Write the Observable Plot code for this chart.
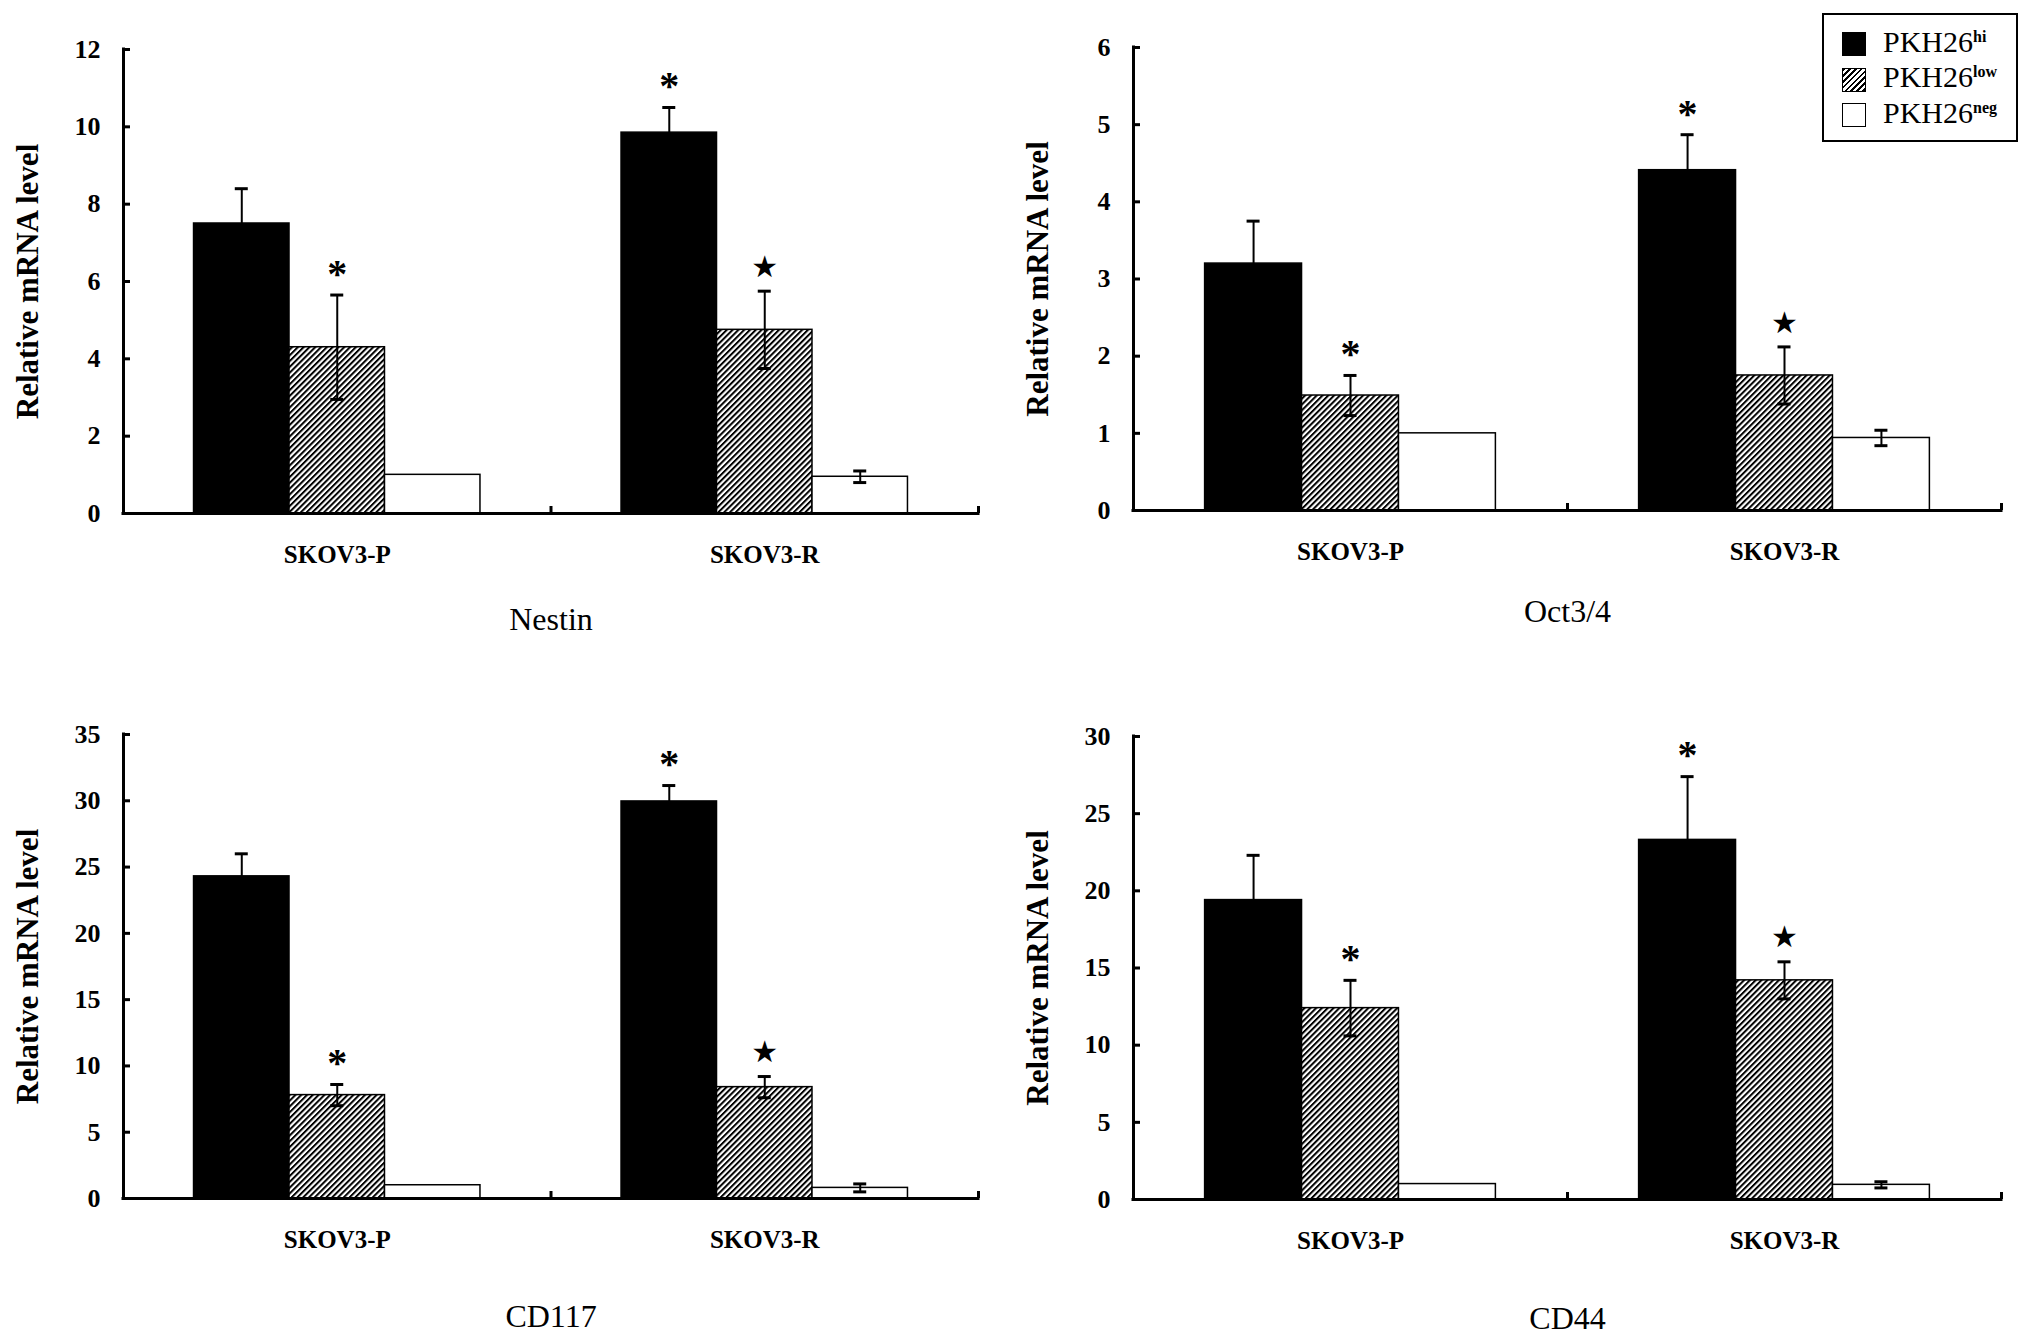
<!DOCTYPE html>
<html>
<head>
<meta charset="utf-8">
<script src="https://cdn.jsdelivr.net/npm/d3@7"></script>
<script src="https://cdn.jsdelivr.net/npm/@observablehq/plot@0.6"></script>
<style>
  body { margin: 0; background: white; }
  #fig { position: relative; width: 2031px; height: 1341px; background: white; font-family: "Liberation Serif", "Times New Roman", serif; }
  .panel { position: absolute; }
  .legend { position: absolute; left: 1822px; top: 13px; width: 196px; height: 129px; border: 2px solid black; box-sizing: border-box; }
  .legend .row { position: absolute; left: 18px; height: 26px; display: flex; align-items: center; }
  .legend .sw { width: 22px; height: 22px; border: 1.5px solid black; margin-right: 17px; }
  .legend .lab { font-size: 30px; line-height: 26px; }
  .legend sup { font-size: 16px; font-weight: bold; vertical-align: 0; position: relative; top: -10px; }
</style>
</head>
<body>
<div id="fig"></div>
<script>
// categories
const groups = ['SKOV3-P', 'SKOV3-R'];
const series = ['PKH26hi', 'PKH26low', 'PKH26neg'];
const seriesSup = ['hi', 'low', 'neg'];
const genes = ['Nestin', 'Oct3/4', 'CD117', 'CD44'];

// means and error bars, order: P-hi, P-low, P-neg, R-hi, R-low, R-neg
const nestinMean = [7.5, 4.3, 1.0, 9.85, 4.75, 0.95];
const nestinErr = [0.9, 1.35, 0, 0.65, 1.0, 0.15];
const octMean = [3.2, 1.49, 1.0, 4.41, 1.75, 0.94];
const octErr = [0.55, 0.26, 0, 0.46, 0.37, 0.1];
const cd117Mean = [24.3, 7.8, 1.0, 29.95, 8.4, 0.8];
const cd117Err = [1.7, 0.8, 0, 1.2, 0.8, 0.3];
const cd44Mean = [19.4, 12.4, 1.0, 23.3, 14.2, 0.95];
const cd44Err = [2.9, 1.8, 0, 4.1, 1.2, 0.2];

// significance marks per bar
const sigMarks = ['', '*', '', '*', '\u2605', ''];

// y axis ticks
const nestinTicks = [0, 2, 4, 6, 8, 10, 12];
const octTicks = [0, 1, 2, 3, 4, 5, 6];
const cd117Ticks = [0, 5, 10, 15, 20, 25, 30, 35];
const cd44Ticks = [0, 5, 10, 15, 20, 25, 30];

const panels = [
  {gene: genes[0], mean: nestinMean, err: nestinErr, ticks: nestinTicks,
   left: 0, top: 0, width: 1015, height: 670, mt: 49, mb: 157, ml: 123, mr: 37, titleDy: 106},
  {gene: genes[1], mean: octMean, err: octErr, ticks: octTicks,
   left: 1015, top: 0, width: 1016, height: 670, mt: 47, mb: 160, ml: 118, mr: 30, titleDy: 101},
  {gene: genes[2], mean: cd117Mean, err: cd117Err, ticks: cd117Ticks,
   left: 0, top: 670, width: 1015, height: 671, mt: 64, mb: 143, ml: 123, mr: 37, titleDy: 118},
  {gene: genes[3], mean: cd44Mean, err: cd44Err, ticks: cd44Ticks,
   left: 1015, top: 670, width: 1016, height: 671, mt: 66, mb: 142, ml: 118, mr: 30, titleDy: 119}
];

// bars sit inside each group's unit interval
const sub = d3.scaleBand(series, [0.165, 0.835]);
const bx1 = d => groups.indexOf(d.group) + sub(d.series);
const bx2 = d => bx1(d) + sub.bandwidth();
const bxc = d => bx1(d) + sub.bandwidth() / 2;

const fig = document.getElementById('fig');

panels.forEach((p, k) => {
  const rows = groups.flatMap((g, gi) => series.map((s, si) => ({
    group: g, series: s,
    mean: p.mean[gi * 3 + si], err: p.err[gi * 3 + si], sig: sigMarks[gi * 3 + si]
  })));
  const withErr = rows.filter(d => d.err > 0);
  const ymax = p.ticks[p.ticks.length - 1];
  const hatchId = 'hatch' + k;

  const defs = () => {
    const d = d3.create('svg:defs');
    const pat = d.append('pattern')
      .attr('id', hatchId)
      .attr('patternUnits', 'userSpaceOnUse')
      .attr('width', 4.1).attr('height', 4.1)
      .attr('patternTransform', 'rotate(45)');
    pat.append('rect').attr('width', 4.1).attr('height', 4.1).attr('fill', 'white');
    pat.append('rect').attr('x', 0).attr('y', 0).attr('width', 2).attr('height', 4.1).attr('fill', 'black');
    return d.node();
  };

  const chart = Plot.plot({
    width: p.width,
    height: p.height,
    marginTop: p.mt,
    marginBottom: p.mb,
    marginLeft: p.ml,
    marginRight: p.mr,
    style: { fontFamily: '"Liberation Serif", "Times New Roman", serif', fontWeight: 'bold', color: 'black', background: 'white', overflow: 'visible' },
    x: { domain: [0, 2] },
    y: { domain: [0, ymax] },
    color: { type: 'ordinal', domain: series, range: ['black', `url(#${hatchId})`, 'white'] },
    marks: [
      defs,
      Plot.rect(rows, { x1: bx1, x2: bx2, y1: 0, y2: 'mean', fill: 'series', stroke: 'black', strokeWidth: 1.5 }),
      // error bars
      Plot.ruleX(withErr, { x: bxc, y1: d => d.mean - d.err, y2: d => d.mean + d.err, strokeWidth: 2 }),
      Plot.ruleY(withErr, { x1: bxc, x2: bxc, y: d => d.mean + d.err, insetLeft: -6.5, insetRight: -6.5, strokeWidth: 3 }),
      Plot.ruleY(withErr, { x1: bxc, x2: bxc, y: d => d.mean - d.err, insetLeft: -6.5, insetRight: -6.5, strokeWidth: 3 }),
      // significance
      Plot.text(rows.filter(d => d.sig === '*'), { x: bxc, y: d => d.mean + d.err, text: 'sig', dy: -21, fontSize: 40, fontWeight: 'bold' }),
      Plot.text(rows.filter(d => d.sig === '\u2605'), { x: bxc, y: d => d.mean + d.err, text: 'sig', dy: -24, fontSize: 30, fontFamily: '"DejaVu Sans"', fontWeight: 'normal' }),
      // axes
      Plot.ruleY([0], { x1: 0, x2: 2, strokeWidth: 3, strokeLinecap: 'square' }),
      Plot.ruleX([0], { y1: 0, y2: ymax, strokeWidth: 3, strokeLinecap: 'square' }),
      Plot.ruleY(p.ticks, { x1: 0, x2: 0, insetRight: -7, strokeWidth: 3 }),
      Plot.ruleX([1, 2], { y1: 0, y2: 0, insetTop: -7, strokeWidth: 3 }),
      Plot.axisY(p.ticks, { tickSize: 0, tickPadding: 23, fontSize: 26, tickFormat: d => String(d), label: null }),
      Plot.axisX([0.5, 1.5], { tickSize: 0, tickPadding: 32, fontSize: 25, tickFormat: d => groups[Math.floor(d)], label: null }),
      // y label and gene title
      Plot.text(['Relative mRNA level'], { frameAnchor: 'left', textAnchor: 'middle', text: d => d, rotate: -90, dx: -95, fontSize: 31, fontWeight: 'bold' }),
      Plot.text([p.gene], { x: 1, y: 0, text: d => d, dy: p.titleDy, fontSize: 32, fontWeight: 'normal' })
    ]
  });

  const div = document.createElement('div');
  div.className = 'panel';
  div.style.left = p.left + 'px';
  div.style.top = p.top + 'px';
  div.append(chart);
  fig.append(div);
});

// legend
const legend = document.createElement('div');
legend.className = 'legend';
const swatches = [
  'background: black;',
  'background: repeating-linear-gradient(135deg, black 0 1.8px, white 1.8px 4.1px);',
  'background: white;'
];
series.forEach((s, i) => {
  const row = document.createElement('div');
  row.className = 'row';
  row.style.top = (16 + i * 35.5) + 'px';
  row.innerHTML = `<div class="sw" style="${swatches[i]}"></div><div class="lab">PKH26<sup>${seriesSup[i]}</sup></div>`;
  legend.append(row);
});
fig.append(legend);
</script>
</body>
</html>
